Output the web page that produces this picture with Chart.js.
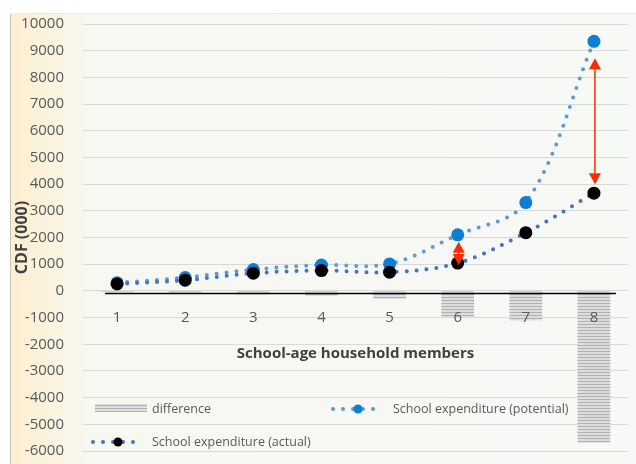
<!DOCTYPE html>
<html>
<head>
<meta charset="utf-8">
<script src="https://cdn.jsdelivr.net/npm/chart.js@4.4.0/dist/chart.umd.min.js"></script>
<style>
  html, body { margin: 0; padding: 0; background: #fff; }
</style>
</head>
<body>
<canvas id="chart" width="636" height="464"></canvas>
<script>
// values (CDF, thousands)
const categories = ['1', '2', '3', '4', '5', '6', '7', '8']
const potential = [300, 500, 800, 970, 1010, 2100, 3310, 9350]
const actual = [260, 400, 660, 760, 700, 1040, 2180, 3660]
const difference = [-40, -100, -130, -190, -300, -1010, -1110, -5690]
const yMin = -6000
const yMax = 10000
const yStep = 1000

const FONT = "'Open Sans', 'Liberation Sans', sans-serif"
const TEXT = '#595959'
const TITLE = '#404040'
const POT_LINE = '#5b9bd5'
const POT_MARK = '#0b7fd0'
const ACT_LINE = '#4472c4'
const ACT_MARK = '#000000'

function stripePattern() {
  const c = document.createElement('canvas')
  c.width = 4
  c.height = 3
  const g = c.getContext('2d')
  g.fillStyle = '#dedede'
  g.fillRect(0, 0, 4, 3)
  g.fillStyle = '#b0b0b0'
  g.fillRect(0, 0, 4, 1)
  return g.createPattern(c, 'repeat')
}
const stripes = stripePattern()

// background panel with the cream fade on the left
const backdrop = {
  id: 'backdrop',
  beforeDraw(chart) {
    const { ctx, width, height } = chart
    ctx.save()
    ctx.fillStyle = '#ffffff'
    ctx.fillRect(0, 0, width, height)
    const grad = ctx.createLinearGradient(10, 0, width, 0)
    grad.addColorStop(0, '#fdeecf')
    grad.addColorStop(0.13, '#f8f8f2')
    grad.addColorStop(1, '#f7f9f6')
    ctx.fillStyle = grad
    ctx.fillRect(10, 13, width - 10, height - 13)
    ctx.strokeStyle = '#c9c2b4'
    ctx.lineWidth = 1
    ctx.beginPath()
    ctx.moveTo(10.5, 13)
    ctx.lineTo(10.5, height)
    ctx.stroke()
    ctx.strokeStyle = '#f6ead2'
    ctx.beginPath()
    ctx.moveTo(10, 13.5)
    ctx.lineTo(width, 13.5)
    ctx.stroke()
    ctx.restore()
  }
}

function drawArrow(ctx, x, yTop, yBottom) {
  const head = 11
  const half = 6
  ctx.strokeStyle = '#ff2b00'
  ctx.fillStyle = '#ff2b00'
  ctx.lineWidth = 1.5
  if (yBottom - yTop > head * 2) {
    ctx.beginPath()
    ctx.moveTo(x, yTop + head)
    ctx.lineTo(x, yBottom - head)
    ctx.stroke()
  }
  ctx.beginPath()
  ctx.moveTo(x, yTop)
  ctx.lineTo(x - half, yTop + head)
  ctx.lineTo(x + half, yTop + head)
  ctx.closePath()
  ctx.fill()
  ctx.beginPath()
  ctx.moveTo(x, yBottom)
  ctx.lineTo(x - half, yBottom - head)
  ctx.lineTo(x + half, yBottom - head)
  ctx.closePath()
  ctx.fill()
}

const arrows = [
  { index: 5, gapTop: 7, gapBottom: -2 },
  { index: 7, gapTop: 17, gapBottom: 9 }
]

const extras = {
  id: 'extras',
  afterDatasetsDraw(chart) {
    const { ctx, scales: { x, y } } = chart
    ctx.save()
    // horizontal axis line
    const zero = y.getPixelForValue(0) + 2.5
    ctx.strokeStyle = '#000'
    ctx.lineWidth = 1.5
    ctx.beginPath()
    ctx.moveTo(x.getPixelForValue(0) - 12, zero)
    ctx.lineTo(x.getPixelForValue(categories.length - 1) + 22, zero)
    ctx.stroke()
    // gap arrows
    arrows.forEach(a => {
      const px = x.getPixelForValue(a.index) + 1
      drawArrow(ctx, px,
        y.getPixelForValue(potential[a.index]) + a.gapTop,
        y.getPixelForValue(actual[a.index]) - a.gapBottom)
    })
    ctx.restore()
  },
  afterDraw(chart) {
    const { ctx, chartArea } = chart
    const L = chartArea.left
    ctx.save()
    ctx.font = '12.5px ' + FONT
    ctx.fillStyle = TEXT
    ctx.textBaseline = 'middle'

    // difference
    ctx.fillStyle = stripes
    ctx.fillRect(L + 12, 404, 52, 8)
    ctx.fillStyle = TEXT
    ctx.fillText('difference', L + 69, 409)

    const dotted = (x0, x1, yy, line, mark) => {
      ctx.strokeStyle = line
      ctx.lineWidth = 4
      ctx.lineCap = 'round'
      ctx.setLineDash([0, 10])
      ctx.beginPath()
      ctx.moveTo(x0, yy)
      ctx.lineTo(x1, yy)
      ctx.stroke()
      ctx.setLineDash([])
      ctx.fillStyle = mark
      ctx.beginPath()
      ctx.arc((x0 + x1) / 2, yy, 4.5, 0, Math.PI * 2)
      ctx.fill()
    }

    dotted(333, 383, 409, POT_LINE, POT_MARK)
    ctx.fillStyle = TEXT
    ctx.fillText('School expenditure (potential)', 393, 409)

    dotted(L + 10, L + 60, 442, ACT_LINE, ACT_MARK)
    ctx.fillStyle = TEXT
    ctx.fillText('School expenditure (actual)', L + 69, 442)
    ctx.restore()
  }
}

new Chart(document.getElementById('chart'), {
  data: {
    labels: categories,
    datasets: [
      {
        type: 'line',
        label: 'School expenditure (actual)',
        data: actual,
        order: 0,
        borderColor: ACT_LINE,
        borderWidth: 4,
        borderDash: [0, 10],
        borderCapStyle: 'round',
        tension: 0.35,
        pointRadius: 6.5,
        pointBackgroundColor: ACT_MARK,
        pointBorderColor: ACT_MARK,
        pointBorderWidth: 0
      },
      {
        type: 'line',
        label: 'School expenditure (potential)',
        data: potential,
        order: 1,
        borderColor: POT_LINE,
        borderWidth: 4,
        borderDash: [0, 10],
        borderCapStyle: 'round',
        tension: 0.35,
        pointRadius: 6.5,
        pointBackgroundColor: POT_MARK,
        pointBorderColor: POT_MARK,
        pointBorderWidth: 0
      },
      {
        type: 'bar',
        label: 'difference',
        data: difference,
        order: 2,
        backgroundColor: stripes,
        borderWidth: 0,
        categoryPercentage: 1,
        barPercentage: 0.48
      }
    ]
  },
  options: {
    responsive: false,
    devicePixelRatio: 1,
    animation: false,
    layout: { padding: { left: 10, right: 8, top: 24, bottom: 13 } },
    plugins: {
      legend: { display: false },
      tooltip: { enabled: false }
    },
    scales: {
      x: {
        position: { y: 0 },
        grid: { display: false, drawTicks: false },
        border: { display: false },
        ticks: {
          z: 1,
          color: TEXT,
          padding: 18,
          font: { size: 15, family: FONT }
        },
        title: {
          display: true,
          text: 'School-age household members',
          color: TITLE,
          padding: { top: 0, bottom: 0 },
          font: { size: 15, weight: 'bold', family: FONT }
        }
      },
      y: {
        min: yMin,
        max: yMax,
        grid: { color: '#d9d9d9', drawTicks: false },
        border: { display: false },
        ticks: {
          stepSize: yStep,
          color: TEXT,
          padding: 19,
          font: { size: 15, family: FONT },
          callback: v => String(v)
        },
        title: {
          display: true,
          text: 'CDF (000)',
          color: TITLE,
          padding: { top: 3, bottom: 0 },
          font: { size: 16, weight: 'bold', family: FONT }
        },
        afterFit: s => {
          s.width = 73
          s.paddingTop = 0
          s.paddingBottom = 0
        }
      }
    }
  },
  plugins: [backdrop, extras]
})
</script>
</body>
</html>
